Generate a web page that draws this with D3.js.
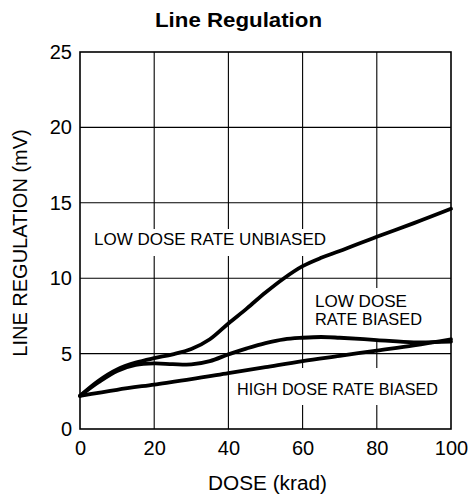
<!DOCTYPE html>
<html>
<head>
<meta charset="utf-8">
<script src="https://cdn.jsdelivr.net/npm/d3@7"></script>
<style>
  html, body { margin: 0; padding: 0; background: #fff; }
  svg { display: block; }
  text { font-family: "Liberation Sans", Arial, Helvetica, sans-serif; fill: #000; }
</style>
</head>
<body>
<svg id="chart" width="471" height="499"></svg>
<script>
// ---- data ----
const title = "Line Regulation";
const xLabel = "DOSE (krad)";
const yLabel = "LINE REGULATION (mV)";
const xTicks = [0, 20, 40, 60, 80, 100];
const yTicks = [0, 5, 10, 15, 20, 25];

const lowDoseUnbiased = [
  [0, 2.2], [5, 3.2], [10, 3.95], [15, 4.4], [20, 4.7], [25, 4.95], [30, 5.3],
  [35, 5.95], [40, 7.0], [45, 8.0], [50, 9.05], [55, 10.0], [60, 10.8], [65, 11.35],
  [70, 11.8], [80, 12.75], [90, 13.65], [100, 14.6]
];
const lowDoseBiased = [
  [0, 2.2], [5, 3.1], [10, 3.85], [15, 4.25], [20, 4.35], [25, 4.3], [30, 4.28],
  [35, 4.5], [40, 4.95], [45, 5.35], [50, 5.7], [55, 5.95], [60, 6.05], [65, 6.1],
  [70, 6.05], [80, 5.9], [90, 5.75], [100, 5.8]
];
const highDoseBiased = [
  [0, 2.2], [10, 2.6], [20, 2.95], [30, 3.3], [40, 3.7], [50, 4.1], [60, 4.5],
  [70, 4.85], [80, 5.2], [90, 5.55], [100, 5.95]
];

(function () {
// ---- layout ----
const svg = d3.select("#chart");
const mLeft = 80, mRight = 451, mTop = 52, mBottom = 429;
const x = d3.scaleLinear().domain([0, 100]).range([mLeft, mRight]);
const y = d3.scaleLinear().domain([0, 25]).range([mBottom, mTop]);

// grid
const grid = svg.append("g").attr("stroke", "#000").attr("stroke-width", 1.1);
grid.selectAll("line.v").data(xTicks.slice(1, -1)).enter().append("line")
  .attr("x1", d => x(d)).attr("x2", d => x(d)).attr("y1", y(0)).attr("y2", y(25));
grid.selectAll("line.h").data(yTicks.slice(1, -1)).enter().append("line")
  .attr("x1", x(0)).attr("x2", x(100)).attr("y1", d => y(d)).attr("y2", d => y(d));

// annotation labels (with white background that breaks the grid)
const labels = [
  { lines: ["LOW DOSE RATE UNBIASED"], x: 94, y: 245, len: [232], pad: [4, 1, 4, 7] },
  { lines: ["LOW DOSE", "RATE BIASED"], x: 315, y: 307, len: [92, 107], pad: [4, 4, 4, 10] },
  { lines: ["HIGH DOSE RATE BIASED"], x: 237, y: 395, len: [201], pad: [4, 12, 4, 6] }
];
const bgLayer = svg.append("g");
const lineLayer = svg.append("g");
const textLayer = svg.append("g");

labels.forEach(l => {
  const g = textLayer.append("g");
  l.lines.forEach((t, i) => {
    g.append("text")
      .attr("x", l.x).attr("y", l.y + i * 18)
      .attr("font-size", 17)
      .attr("textLength", l.len[i])
      .attr("lengthAdjust", "spacingAndGlyphs")
      .text(t);
  });
  const bb = g.node().getBBox();
  bgLayer.append("rect")
    .attr("x", bb.x - l.pad[0]).attr("y", bb.y - l.pad[1])
    .attr("width", bb.width + l.pad[0] + l.pad[2])
    .attr("height", bb.height + l.pad[1] + l.pad[3])
    .attr("fill", "#fff");
});

// curves
const line = d3.line().x(d => x(d[0])).y(d => y(d[1])).curve(d3.curveCatmullRom.alpha(0.5));
[lowDoseUnbiased, lowDoseBiased, highDoseBiased].forEach(s => {
  lineLayer.append("path").datum(s)
    .attr("d", line)
    .attr("fill", "none")
    .attr("stroke", "#000")
    .attr("stroke-width", 3.8)
    .attr("stroke-linejoin", "round")
    .attr("stroke-linecap", "round");
});

// frame
svg.append("rect")
  .attr("x", x(0)).attr("y", y(25))
  .attr("width", x(100) - x(0)).attr("height", y(0) - y(25))
  .attr("fill", "none").attr("stroke", "#000").attr("stroke-width", 1.6);

// axes
const xAxis = svg.append("g").attr("transform", `translate(0,${mBottom})`)
  .call(d3.axisBottom(x).tickValues(xTicks).tickSize(0).tickPadding(12));
const yAxis = svg.append("g").attr("transform", `translate(${mLeft},0)`)
  .call(d3.axisLeft(y).tickValues(yTicks).tickSize(0).tickPadding(8));
[xAxis, yAxis].forEach(a => {
  a.select(".domain").remove();
  a.selectAll("text").attr("font-size", 20)
    .attr("font-family", "'Liberation Sans', Arial, Helvetica, sans-serif")
    .attr("fill", "#000");
});

// titles
svg.append("text")
  .attr("x", 238.5).attr("y", 27)
  .attr("text-anchor", "middle")
  .attr("font-size", 20).attr("font-weight", "bold")
  .attr("textLength", 167).attr("lengthAdjust", "spacingAndGlyphs")
  .text(title);

svg.append("text")
  .attr("x", 267.5).attr("y", 490)
  .attr("text-anchor", "middle")
  .attr("font-size", 20)
  .attr("textLength", 119).attr("lengthAdjust", "spacingAndGlyphs")
  .text(xLabel);

svg.append("text")
  .attr("transform", `translate(27,243) rotate(-90)`)
  .attr("text-anchor", "middle")
  .attr("font-size", 20)
  .text(yLabel);
})();
</script>
</body>
</html>
